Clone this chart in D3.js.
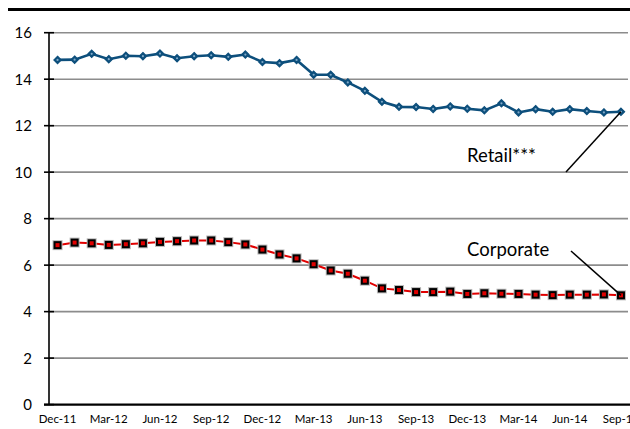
<!DOCTYPE html>
<html>
<head>
<meta charset="utf-8">
<script src="https://cdn.jsdelivr.net/npm/d3@7"></script>
<style>
  html, body { margin: 0; padding: 0; background: #fff; }
  svg { display: block; }
  text { font-family: Lato, "Open Sans", sans-serif; }
</style>
</head>
<body>
<svg id="chart" width="630" height="429"></svg>
<script>
const categories = ["Dec-11","Jan-12","Feb-12","Mar-12","Apr-12","May-12","Jun-12","Jul-12","Aug-12","Sep-12","Oct-12","Nov-12",
  "Dec-12","Jan-13","Feb-13","Mar-13","Apr-13","May-13","Jun-13","Jul-13","Aug-13","Sep-13","Oct-13","Nov-13",
  "Dec-13","Jan-14","Feb-14","Mar-14","Apr-14","May-14","Jun-14","Jul-14","Aug-14","Sep-14"];
const retail = [14.83,14.84,15.09,14.86,15.01,14.99,15.10,14.90,14.99,15.03,14.96,15.06,
  14.74,14.69,14.83,14.19,14.19,13.86,13.50,13.03,12.81,12.80,12.72,12.83,
  12.73,12.66,12.96,12.57,12.71,12.60,12.71,12.63,12.57,12.60];
const corporate = [6.86,6.97,6.94,6.87,6.90,6.94,7.00,7.03,7.06,7.06,6.99,6.89,
  6.67,6.46,6.29,6.04,5.77,5.63,5.33,5.00,4.93,4.84,4.84,4.86,
  4.76,4.79,4.77,4.76,4.73,4.71,4.73,4.73,4.74,4.70];
const yTicks = [0,2,4,6,8,10,12,14,16];
const xLabelEvery = 3;
const seriesLabels = ["Retail***", "Corporate"];

(function () {
const svg = d3.select("#chart");
const pl = 49, pr = 629.5, pt = 32.7, pb = 404.6;

const x = d3.scalePoint().domain(categories).range([pl, pr]).padding(0.5);
const y = d3.scaleLinear().domain([0, 16]).range([pb, pt]);

// top rule
svg.append("line").attr("x1", 8).attr("x2", 630).attr("y1", 9.5).attr("y2", 9.5)
  .attr("stroke", "#000").attr("stroke-width", 3);

// gridlines
svg.append("g").selectAll("line").data(yTicks.filter(d => d > 0)).join("line")
  .attr("x1", pl).attr("x2", 628)
  .attr("y1", d => y(d)).attr("y2", d => y(d))
  .attr("stroke", "#8c8c8c").attr("stroke-width", 1.6);

// y axis
svg.append("line").attr("x1", pl).attr("x2", pl).attr("y1", pt).attr("y2", pb)
  .attr("stroke", "#000").attr("stroke-width", 1.6);
svg.append("g").selectAll("line").data(yTicks).join("line")
  .attr("x1", pl - 5).attr("x2", pl + 5)
  .attr("y1", d => y(d)).attr("y2", d => y(d))
  .attr("stroke", "#000").attr("stroke-width", 1.6);
svg.append("g").selectAll("text").data(yTicks).join("text")
  .attr("x", 32).attr("y", d => y(d)).attr("dy", "0.36em")
  .attr("text-anchor", "end").attr("font-size", 15).attr("fill", "#000")
  .text(d => d);

// x axis
svg.append("line").attr("x1", pl - 5).attr("x2", 630).attr("y1", pb).attr("y2", pb)
  .attr("stroke", "#000").attr("stroke-width", 2.2);
svg.append("g").selectAll("text").data(categories.filter((d, i) => i % xLabelEvery === 0)).join("text")
  .attr("x", d => x(d)).attr("y", 423)
  .attr("text-anchor", "middle").attr("font-size", 11.5).attr("fill", "#000")
  .text(d => d);

const line = d3.line().x((d, i) => x(categories[i])).y(d => y(d));

// retail
svg.append("path").datum(retail).attr("d", line)
  .attr("fill", "none").attr("stroke", "#0d4f7c").attr("stroke-width", 2.6);
const dia = d3.symbol().type(d3.symbolDiamond2).size(34);
svg.append("g").selectAll("path").data(retail).join("path")
  .attr("transform", (d, i) => `translate(${x(categories[i])},${y(d)})`)
  .attr("d", dia).attr("fill", "#0d4f7c").attr("stroke", "#0d4f7c").attr("stroke-width", 1.2);
svg.append("g").selectAll("circle").data(retail).join("circle")
  .attr("cx", (d, i) => x(categories[i])).attr("cy", d => y(d)).attr("r", 1.1)
  .attr("fill", "#7fa8c8");

// corporate
svg.append("path").datum(corporate).attr("d", line)
  .attr("fill", "none").attr("stroke", "#e00000").attr("stroke-width", 2);
svg.append("g").selectAll("rect.sh").data(corporate).join("rect")
  .attr("x", (d, i) => x(categories[i]) - 5).attr("y", d => y(d) - 5)
  .attr("width", 10).attr("height", 10).attr("fill", "#b8b8b8");
svg.append("g").selectAll("rect.o").data(corporate).join("rect")
  .attr("x", (d, i) => x(categories[i]) - 4).attr("y", d => y(d) - 4)
  .attr("width", 8).attr("height", 8).attr("fill", "#000");
svg.append("g").selectAll("rect.i").data(corporate).join("rect")
  .attr("x", (d, i) => x(categories[i]) - 2).attr("y", d => y(d) - 2)
  .attr("width", 4).attr("height", 4).attr("fill", "#e00000");

// labels and leader lines
const lastCat = categories[categories.length - 1];
svg.append("text").attr("x", 467).attr("y", 162).attr("font-size", 18.5).attr("fill", "#000")
  .text(seriesLabels[0]);
svg.append("line").attr("x1", 566).attr("y1", 172)
  .attr("x2", x(lastCat)).attr("y2", y(retail[retail.length - 1]))
  .attr("stroke", "#000").attr("stroke-width", 1.5);

svg.append("text").attr("x", 467).attr("y", 256).attr("font-size", 18.5).attr("fill", "#000")
  .text(seriesLabels[1]);
svg.append("line").attr("x1", 571).attr("y1", 251)
  .attr("x2", x(lastCat)).attr("y2", y(corporate[corporate.length - 1]))
  .attr("stroke", "#000").attr("stroke-width", 1.5);
})();
</script>
</body>
</html>
